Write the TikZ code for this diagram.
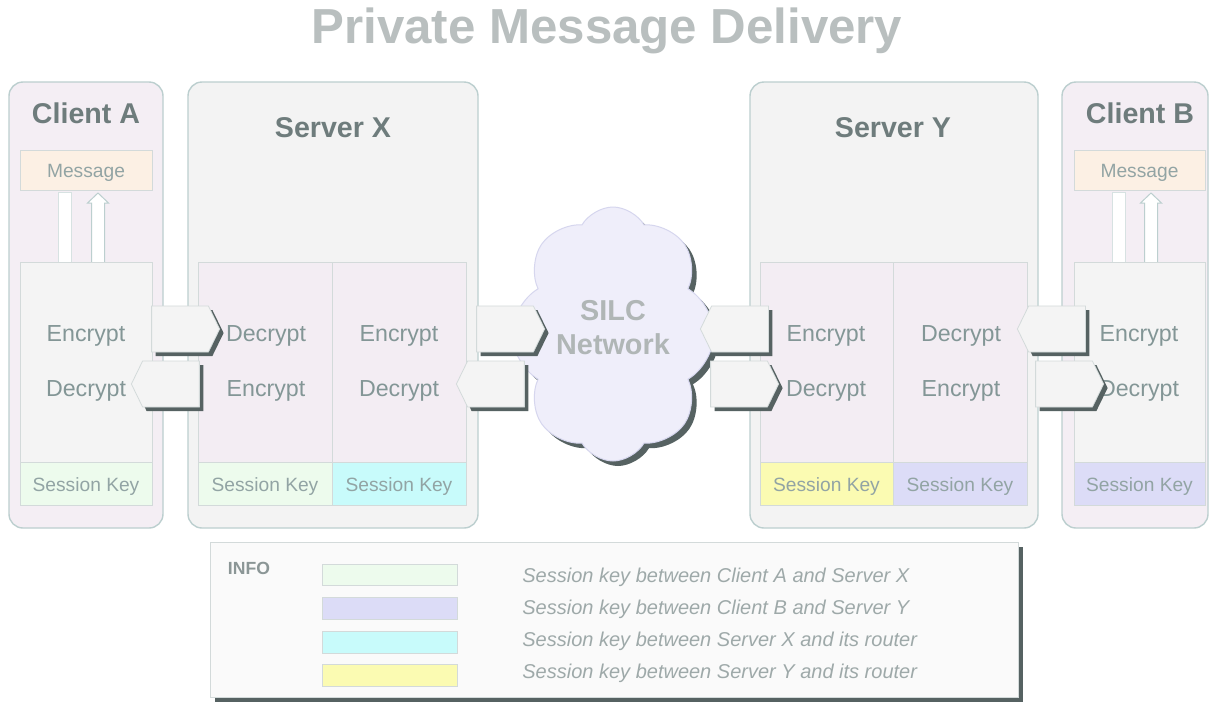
\documentclass[tikz,border=0pt]{standalone}
\usepackage{fontspec}
\setmainfont{Liberation Sans}
\usetikzlibrary{shapes.symbols,shadows,fit}

\definecolor{paneledge}{HTML}{BCCFCF}
\definecolor{celledge}{HTML}{D3DADA}
\definecolor{clientfill}{HTML}{F4EEF4}
\definecolor{serverfill}{HTML}{F3F3F3}
\definecolor{colfill}{HTML}{F3EDF3}
\definecolor{greyfill}{HTML}{F4F4F4}
\definecolor{msgfill}{HTML}{FCF0E4}
\definecolor{keygreen}{HTML}{EDFBED}
\definecolor{keycyan}{HTML}{C8FBFB}
\definecolor{keyyellow}{HTML}{FBFBB2}
\definecolor{keylav}{HTML}{DCDCF7}
\definecolor{cloudfill}{HTML}{EFEEFA}
\definecolor{cloudedge}{HTML}{D6D6EE}
\definecolor{shadowgrey}{HTML}{566262}
\definecolor{titlegrey}{HTML}{B9BFBF}
\definecolor{headgrey}{HTML}{6E7C7C}
\definecolor{opgrey}{HTML}{839696}
\definecolor{keygrey}{HTML}{92A4A4}
\definecolor{notegrey}{HTML}{9EA9A9}

% up-pointing outlined arrow under a Message box; #1 = centre x
\newcommand\liftarrow[1]{%
  \draw[draw=paneledge, fill=white, line width=0.5pt]
    (#1-6.5,262) -- (#1-6.5,203) -- (#1-10.5,203) -- (#1,193)
    -- (#1+10.5,203) -- (#1+6.5,203) -- (#1+6.5,262);}
% plain bar under a Message box; #1 = left x
\newcommand\plainbar[1]{%
  \draw[draw=paneledge!60, fill=white, line width=0.4pt]
    (#1,192) rectangle (#1+13,262);}

\begin{document}
\begin{tikzpicture}[x=0.5pt,y=-0.5pt,
  panel/.style={draw=paneledge, line width=0.7pt, rounded corners=7pt, inner sep=0pt},
  cell/.style={draw=celledge, line width=0.4pt, inner sep=0pt},
  headword/.style={text=headgrey, font=\bfseries\fontsize{14.3}{16}\selectfont},
  opword/.style={text=opgrey, yshift=-1.5pt, font=\fontsize{11.6}{13}\selectfont},
  keyword/.style={text=keygrey, yshift=-1.5pt, font=\fontsize{9.6}{11}\selectfont},
  celltext/.style={label={[keyword]center:#1}},
  castshadow/.style={drop shadow={shadow xshift=2pt, shadow yshift=-2pt, fill=shadowgrey, opacity=1}},
  flow/.style={signal, signal pointer angle=128, fill=greyfill, draw=celledge,
    line width=0.4pt, minimum width=34pt, minimum height=23pt, inner sep=0pt, castshadow},
  flowR/.style={flow, signal to=east},
  flowL/.style={flow, signal to=west},
  noteword/.style={text=notegrey, anchor=west, inner sep=0pt, font=\itshape\fontsize{10}{12}\selectfont},
]
\useasboundingbox[fill=white] (0,0) rectangle (1210,703);

% title
\node[text=titlegrey, font=\bfseries\fontsize{24.6}{28}\selectfont] (title) at (607,31) {Private Message Delivery};

% ---------- Client A ----------
\node[panel, fill=clientfill, fit={(9,82)(163,528)}] (cA) {};
\node[headword] (cAname) at (86,113) {Client A};
\node[cell, fill=msgfill, fit={(20,150)(152,190)}, celltext=Message] (cAmsg) {};
\plainbar{58}
\liftarrow{98}
\node[cell, fill=greyfill, fit={(20,262)(152,462)}] (cAbox) {};
\node[cell, fill=keygreen, fit={(20,462)(152,505)}, celltext=Session Key] (cAkey) {};
\node[opword] (cAenc) at (86,333) {Encrypt};
\node[opword] (cAdec) at (86,388) {Decrypt};

% ---------- Server X ----------
\node[panel, fill=serverfill, fit={(188,82)(478,528)}] (sX) {};
\node[headword] (sXname) at (333,128) {Server X};
\node[cell, fill=colfill, fit={(198,262)(332,462)}] (sXl) {};
\node[cell, fill=colfill, fit={(332,262)(466,462)}] (sXr) {};
\node[cell, fill=keygreen, fit={(198,462)(332,505)}, celltext=Session Key] (sXkl) {};
\node[cell, fill=keycyan, fit={(332,462)(466,505)}, celltext=Session Key] (sXkr) {};
\node[opword] (sXdec1) at (266,333) {Decrypt};
\node[opword] (sXenc1) at (266,388) {Encrypt};
\node[opword] (sXenc2) at (399,333) {Encrypt};
\node[opword] (sXdec2) at (399,388) {Decrypt};

% ---------- Server Y ----------
\node[panel, fill=serverfill, fit={(750,82)(1038,528)}] (sY) {};
\node[headword] (sYname) at (893,128) {Server Y};
\node[cell, fill=colfill, fit={(760,262)(893,462)}] (sYl) {};
\node[cell, fill=colfill, fit={(893,262)(1027,462)}] (sYr) {};
\node[cell, fill=keyyellow, fit={(760,462)(893,505)}, celltext=Session Key] (sYkl) {};
\node[cell, fill=keylav, fit={(893,462)(1027,505)}, celltext=Session Key] (sYkr) {};
\node[opword] (sYenc1) at (826,333) {Encrypt};
\node[opword] (sYdec1) at (826,388) {Decrypt};
\node[opword] (sYdec2) at (961,333) {Decrypt};
\node[opword] (sYenc2) at (961,388) {Encrypt};

% ---------- Client B ----------
\node[panel, fill=clientfill, fit={(1062,82)(1208,528)}] (cB) {};
\node[headword] (cBname) at (1140,113) {Client B};
\node[cell, fill=msgfill, fit={(1074,150)(1205,190)}, celltext=Message] (cBmsg) {};
\plainbar{1112}
\liftarrow{1151}
\node[cell, fill=greyfill, fit={(1074,262)(1205,462)}] (cBbox) {};
\node[cell, fill=keylav, fit={(1074,462)(1205,505)}, celltext=Session Key] (cBkey) {};
\node[opword] (cBenc) at (1139,333) {Encrypt};
\node[opword] (cBdec) at (1139,388) {Decrypt};

% ---------- SILC network ----------
\node[cloud, cloud puffs=8, cloud puff arc=120, aspect=0.8, fill=cloudfill, draw=cloudedge,
  line width=0.5pt, minimum width=101pt, minimum height=127pt,
  drop shadow={shadow xshift=2.5pt, shadow yshift=-2.5pt, fill=shadowgrey, opacity=1}] (net) at (613,334) {};
\node[text=titlegrey!95!black, font=\bfseries\fontsize{14.4}{17}\selectfont, align=center]
  (netname) at (613,328) {SILC\\Network};

% ---------- block arrows ----------
\node[flowR] (a1) at (180,329) {};
\node[flowL] (a2) at (171,384) {};
\node[flowR] (a3) at (505,329) {};
\node[flowL] (a4) at (496,384) {};
\node[flowL] (a5) at (740,329) {};
\node[flowR] (a6) at (739,384) {};
\node[flowL] (a7) at (1057,329) {};
\node[flowR] (a8) at (1064,384) {};

% ---------- legend ----------
\node[draw=celledge, fill=white!98!black, line width=0.5pt, inner sep=0pt,
  fit={(210,542)(1018,697)}, drop shadow={shadow xshift=2.5pt, shadow yshift=-2.5pt, fill=shadowgrey, opacity=1}] (info) {};
\node[text=headgrey!80, font=\bfseries\fontsize{8.8}{10}\selectfont] (infoname) at (249,568) {INFO};
\node[cell, fill=keygreen, fit={(322,564)(457,585)}] (sw1) {};
\node[cell, fill=keylav, fit={(322,597)(457,619)}] (sw2) {};
\node[cell, fill=keycyan, fit={(322,631)(457,653)}] (sw3) {};
\node[cell, fill=keyyellow, fit={(322,664)(457,686)}] (sw4) {};
\node[noteword] (n1) at (522,577) {Session key between Client A and Server X};
\node[noteword] (n2) at (522,609) {Session key between Client B and Server Y};
\node[noteword] (n3) at (522,641) {Session key between Server X and its router};
\node[noteword] (n4) at (522,673) {Session key between Server Y and its router};
\end{tikzpicture}
\end{document}
